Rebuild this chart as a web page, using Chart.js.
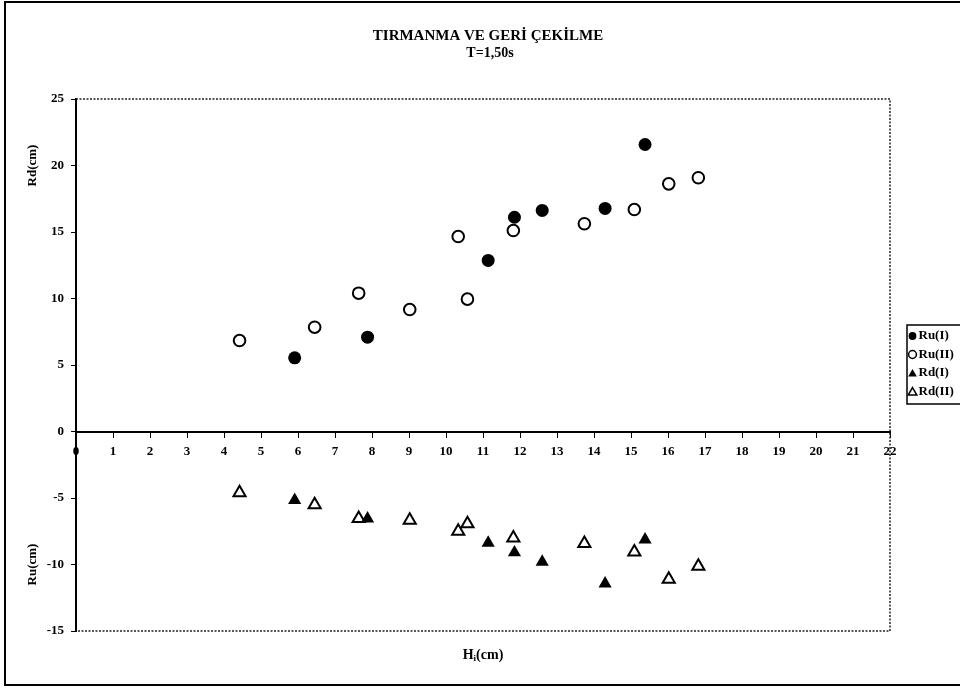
<!DOCTYPE html>
<html>
<head>
<meta charset="utf-8">
<script src="https://cdn.jsdelivr.net/npm/chart.js@4.4.1/dist/chart.umd.min.js"></script>
<style>
  html, body { margin: 0; padding: 0; background: #fff; }
  canvas { display: block; }
</style>
</head>
<body>
<canvas id="chart" width="960" height="688"></canvas>
<script>
// Wave run-up / run-down measurements, T = 1.50 s
const titleLines = ['TIRMANMA VE GERİ ÇEKİLME', 'T=1,50s'];
const seriesNames = ['Ru(I)', 'Ru(II)', 'Rd(I)', 'Rd(II)'];

// Incident wave height Hi (cm) for each test set
const hiSetI  = [5.91, 7.88, 11.14, 11.85, 12.6, 14.3, 15.38];
const hiSetII = [4.42, 6.45, 7.64, 9.02, 10.33, 10.58, 11.82, 13.74, 15.09, 16.02, 16.82];

// Run-up (positive) and run-down (negative), cm
const ruSetI  = [5.54, 7.09, 12.86, 16.11, 16.62, 16.77, 21.58];
const ruSetII = [6.84, 7.84, 10.4, 9.17, 14.66, 9.95, 15.11, 15.62, 16.69, 18.62, 19.08];
const rdSetI  = [-5.16, -6.55, -8.38, -9.1, -9.8, -11.44, -8.13];
const rdSetII = [-4.6, -5.5, -6.55, -6.67, -7.5, -6.93, -8.0, -8.43, -9.06, -11.11, -10.13];

// Axis ranges and titles
const xRange = [0, 22];
const yRange = [-15, 25];
const yTitleUpper = 'Rd(cm)';
const yTitleLower = 'Ru(cm)';

const SERIF = '"Liberation Serif", "Times New Roman", serif';

function pairs(xs, ys) {
  return xs.map((x, i) => ({ x: x, y: ys[i] }));
}

const decor = {
  id: 'decor',
  beforeDraw(chart) {
    const ctx = chart.ctx;
    ctx.save();
    ctx.fillStyle = '#fff';
    ctx.fillRect(0, 0, chart.width, chart.height);
    ctx.restore();
  },
  afterDraw(chart) {
    const { ctx, chartArea: a, scales } = chart;
    const y = scales.y;
    ctx.save();

    // dotted plot-area frame (top, right, bottom)
    ctx.strokeStyle = '#222';
    ctx.lineWidth = 1.5;
    ctx.setLineDash([2, 1.5]);
    ctx.beginPath();
    ctx.moveTo(a.left, a.top);
    ctx.lineTo(a.right, a.top);
    ctx.lineTo(a.right, a.bottom);
    ctx.lineTo(a.left, a.bottom);
    ctx.stroke();
    ctx.setLineDash([]);

    // outer frame
    ctx.strokeStyle = '#000';
    ctx.lineWidth = 2;
    ctx.strokeRect(5, 2, 962, 683);

    // title
    ctx.fillStyle = '#000';
    ctx.textAlign = 'center';
    ctx.textBaseline = 'middle';
    ctx.font = 'bold 15px ' + SERIF;
    ctx.fillText(titleLines[0], 488, 36);
    ctx.font = 'bold 14px ' + SERIF;
    ctx.fillText(titleLines[1], 490, 53);

    // y-axis titles
    ctx.font = 'bold 13px ' + SERIF;
    [[yTitleUpper, 20], [yTitleLower, -10]].forEach(([txt, v]) => {
      ctx.save();
      ctx.translate(33, y.getPixelForValue(v));
      ctx.rotate(-Math.PI / 2);
      ctx.fillText(txt, 0, 0);
      ctx.restore();
    });

    // x-axis title: H with subscript i
    const cx = (a.left + a.right) / 2;
    const ty = 655;
    ctx.font = 'bold 14px ' + SERIF;
    const wH = ctx.measureText('H').width;
    const wRest = ctx.measureText('(cm)').width;
    ctx.font = 'bold 9px ' + SERIF;
    const wi = ctx.measureText('i').width;
    let sx = cx - (wH + wi + wRest) / 2;
    ctx.textAlign = 'left';
    ctx.font = 'bold 14px ' + SERIF;
    ctx.fillText('H', sx, ty);
    sx += wH;
    ctx.font = 'bold 9px ' + SERIF;
    ctx.fillText('i', sx, ty + 4);
    sx += wi;
    ctx.font = 'bold 14px ' + SERIF;
    ctx.fillText('(cm)', sx, ty);

    // legend
    const lx = 907, ltop = 325, lbot = 404;
    ctx.strokeStyle = '#000';
    ctx.lineWidth = 1.5;
    ctx.strokeRect(lx, ltop, 70, lbot - ltop);
    const rowY = [336, 354.5, 373, 391.5];
    ctx.font = 'bold 13px ' + SERIF;
    ctx.textAlign = 'left';
    chart.data.datasets.forEach((ds, i) => {
      ctx.fillStyle = ds.pointBackgroundColor;
      ctx.strokeStyle = ds.pointBorderColor;
      ctx.lineWidth = ds.pointBorderWidth ? 1.5 : 0;
      Chart.helpers.drawPoint(ctx, {
        pointStyle: ds.pointStyle,
        radius: ds.pointStyle === 'triangle' ? 5 : 3.9,
        borderWidth: ds.pointBorderWidth ? 1.5 : 0,
        rotation: 0
      }, lx + 5.5, rowY[i] + (ds.pointStyle === 'triangle' ? 1 : 0));
      ctx.fillStyle = '#000';
      ctx.fillText(ds.label, lx + 11.5, rowY[i]);
    });

    ctx.restore();
  }
};

const tickFont = { family: SERIF, size: 13, weight: 'bold' };

new Chart(document.getElementById('chart'), {
  type: 'scatter',
  data: {
    datasets: [
      {
        label: seriesNames[0],
        data: pairs(hiSetI, ruSetI),
        pointStyle: 'circle',
        pointRadius: 6.5,
        pointBackgroundColor: '#000',
        pointBorderColor: '#000',
        pointBorderWidth: 0
      },
      {
        label: seriesNames[1],
        data: pairs(hiSetII, ruSetII),
        pointStyle: 'circle',
        pointRadius: 5.8,
        pointBackgroundColor: '#fff',
        pointBorderColor: '#000',
        pointBorderWidth: 2
      },
      {
        label: seriesNames[2],
        data: pairs(hiSetI, rdSetI),
        pointStyle: 'triangle',
        pointRadius: 7.6,
        pointBackgroundColor: '#000',
        pointBorderColor: '#000',
        pointBorderWidth: 0
      },
      {
        label: seriesNames[3],
        data: pairs(hiSetII, rdSetII),
        pointStyle: 'triangle',
        pointRadius: 7,
        pointBackgroundColor: '#fff',
        pointBorderColor: '#000',
        pointBorderWidth: 2
      }
    ]
  },
  options: {
    responsive: false,
    animation: false,
    devicePixelRatio: 1,
    events: [],
    layout: { padding: { top: 99, right: 70, bottom: 57, left: 0 } },
    plugins: {
      legend: { display: false },
      title: { display: false },
      tooltip: { enabled: false }
    },
    scales: {
      x: {
        type: 'linear',
        position: { y: 0 },
        min: xRange[0],
        max: xRange[1],
        ticks: { stepSize: 1, color: '#000', font: tickFont, padding: 7, maxRotation: 0, autoSkip: false },
        grid: { display: true, drawOnChartArea: false, drawTicks: true, tickLength: 5, color: '#000', lineWidth: 1 },
        border: { display: true, color: '#000', width: 2 }
      },
      y: {
        type: 'linear',
        min: yRange[0],
        max: yRange[1],
        ticks: { stepSize: 5, color: '#000', font: tickFont, padding: 7 },
        grid: { display: true, drawOnChartArea: false, drawTicks: true, tickLength: 5, color: '#000', lineWidth: 1 },
        border: { display: true, color: '#000', width: 2 },
        afterFit(scale) { scale.width = 76; }
      }
    }
  },
  plugins: [decor]
});
</script>
</body>
</html>
